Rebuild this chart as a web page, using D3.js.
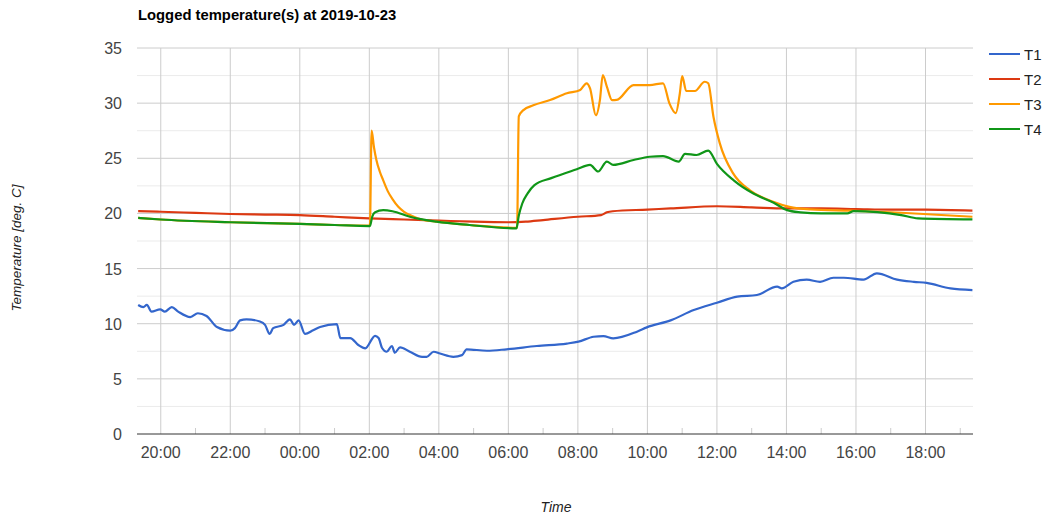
<!DOCTYPE html>
<html>
<head>
<meta charset="utf-8">
<script src="https://d3js.org/d3.v7.min.js"></script>
<style>
  body { margin: 0; background: #fff; }
  text { font-family: Arial, "Liberation Sans", sans-serif; }
</style>
</head>
<body>
<script>
// data, [time, deg C]
var seriesNames = ['T1', 'T2', 'T3', 'T4'];
var seriesColors = ['#3366cc', '#dc3912', '#ff9900', '#109618'];
var yTicks = [0, 5, 10, 15, 20, 25, 30, 35];
var xTickLabels = ['20:00', '22:00', '00:00', '02:00', '04:00', '06:00', '08:00',
                   '10:00', '12:00', '14:00', '16:00', '18:00'];

var t1 = [['19:21', 11.7], ['19:30', 11.5], ['19:36', 11.7], ['19:44', 11.1], ['19:59', 11.3],
  ['20:07', 11.1], ['20:19', 11.5], ['20:30', 11.1], ['20:51', 10.6], ['21:04', 10.95],
  ['21:19', 10.7], ['21:37', 9.7], ['22:00', 9.37], ['22:08', 9.6], ['22:17', 10.3],
  ['22:28', 10.4], ['22:51', 10.2], ['23:00', 9.9], ['23:08', 9.07], ['23:14', 9.6],
  ['23:32', 9.9], ['23:43', 10.4], ['23:50', 9.9], ['23:58', 10.3], ['00:09', 9.07],
  ['00:23', 9.4], ['00:35', 9.7], ['01:04', 9.97], ['01:10', 8.7], ['01:27', 8.7],
  ['01:41', 8.07], ['01:53', 7.77], ['02:10', 8.9], ['02:16', 8.7], ['02:22', 7.8],
  ['02:30', 7.46], ['02:39', 7.98], ['02:44', 7.37], ['02:53', 7.86], ['03:10', 7.46],
  ['03:31', 7.0], ['03:39', 7.0], ['03:51', 7.46], ['04:02', 7.3], ['04:25', 7.0],
  ['04:40', 7.15], ['04:48', 7.68], ['05:23', 7.55], ['05:57', 7.68], ['06:49', 7.98],
  ['07:41', 8.2], ['08:01', 8.37], ['08:27', 8.82], ['08:44', 8.88], ['09:01', 8.67],
  ['09:42', 9.28], ['09:59', 9.67], ['10:40', 10.3], ['11:20', 11.24], ['12:00', 11.9],
  ['12:35', 12.45], ['13:09', 12.6], ['13:44', 13.36], ['13:52', 13.2], ['14:12', 13.8],
  ['14:35', 14.0], ['14:58', 13.8], ['15:21', 14.17], ['15:39', 14.17], ['16:13', 14.0],
  ['16:36', 14.57], ['17:11', 14.0], ['17:40', 13.8], ['18:02', 13.7], ['18:43', 13.2],
  ['19:21', 13.05]];

var t2 = [['19:21', 20.2], ['20:00', 20.15], ['21:00', 20.05], ['22:00', 19.95], ['23:00', 19.9],
  ['00:00', 19.85], ['01:00', 19.7], ['02:00', 19.55], ['03:00', 19.45], ['04:00', 19.35],
  ['05:00', 19.25], ['06:00', 19.2], ['06:30', 19.25], ['07:00', 19.4], ['08:00', 19.7],
  ['08:40', 19.85], ['08:50', 20.1], ['09:00', 20.2], ['10:00', 20.35], ['10:40', 20.45],
  ['12:00', 20.65], ['13:00', 20.55], ['14:00', 20.45], ['15:00', 20.45], ['16:00', 20.4],
  ['17:00', 20.35], ['18:00', 20.35], ['19:21', 20.25]];

var t3 = [['19:21', 19.6], ['20:00', 19.45], ['22:00', 19.2], ['00:00', 19.05], ['01:00', 18.95],
  ['02:01', 18.9], ['02:04', 27.5], ['02:08', 26.0], ['02:12', 24.9], ['02:18', 23.8],
  ['02:24', 23.0], ['02:32', 22.0], ['02:40', 21.3], ['02:50', 20.6], ['03:00', 20.15],
  ['03:15', 19.75], ['03:30', 19.45], ['03:56', 19.25], ['04:53', 18.95], ['06:15', 18.7],
  ['06:18', 28.8], ['06:26', 29.37], ['06:43', 29.8], ['07:12', 30.28], ['07:41', 30.9],
  ['08:04', 31.2], ['08:15', 31.8], ['08:21', 31.34], ['08:31', 28.9], ['08:38', 30.28],
  ['08:43', 32.55], ['08:50', 31.5], ['08:59', 30.28], ['09:07', 30.3], ['09:36', 31.64],
  ['10:04', 31.64], ['10:27', 31.8], ['10:38', 29.98], ['10:49', 29.1], ['10:56', 30.9],
  ['11:00', 32.45], ['11:07', 31.1], ['11:22', 31.1], ['11:39', 31.94], ['11:45', 31.8],
  ['11:54', 28.77], ['12:05', 26.35], ['12:28', 23.63], ['12:57', 22.1], ['13:37', 21.06],
  ['14:05', 20.6], ['14:42', 20.37], ['15:51', 20.25], ['17:18', 20.06], ['19:21', 19.7]];

var t4 = [['19:21', 19.6], ['20:00', 19.45], ['22:00', 19.2], ['00:00', 19.05], ['01:00', 18.95],
  ['02:01', 18.85], ['02:05', 19.7], ['02:10', 20.1], ['02:24', 20.3], ['02:40', 20.2],
  ['03:10', 19.7], ['03:56', 19.25], ['04:53', 18.95], ['06:14', 18.65], ['06:18', 19.8],
  ['06:24', 20.9], ['06:33', 21.8], ['06:45', 22.57], ['07:14', 23.2], ['07:58', 24.0],
  ['08:21', 24.4], ['08:35', 23.8], ['08:50', 24.7], ['09:01', 24.4], ['09:36', 24.84],
  ['10:04', 25.14], ['10:27', 25.2], ['10:54', 24.7], ['11:05', 25.4], ['11:25', 25.3],
  ['11:45', 25.7], ['12:00', 24.5], ['12:29', 23.0], ['13:03', 21.8], ['13:38', 20.97],
  ['14:01', 20.3], ['14:24', 20.1], ['15:00', 20.0], ['15:45', 20.0], ['15:56', 20.2],
  ['17:18', 19.85], ['17:47', 19.55], ['19:21', 19.46]];

var w = 1047,
    h = 519;
var plotL = 137, plotR = 973, plotT = 48, plotB = 434;

// turn 'HH:MM' lists into dates, rolling over midnight
var parse = function(rows) {
    var day = 22, prev = -1;
    return rows.map(function(r) {
        var p = r[0].split(':'), m = +p[0] * 60 + +p[1];
        if (m < prev) day += 1;
        prev = m;
        return { t: new Date(2019, 9, day, +p[0], +p[1]), v: r[1] };
    });
};
var series = [t1, t2, t3, t4].map(parse);

var x = d3.scaleTime()
    .domain([new Date(2019, 9, 22, 19, 19), new Date(2019, 9, 23, 19, 22)])
    .range([plotL, plotR]);
var y = d3.scaleLinear()
    .domain([0, 35])
    .range([plotB, plotT]);

var svg = d3.select('body')
    .append('svg')
    .attr('width', w)
    .attr('height', h);

// minor horizontal grid
svg.append('g')
    .selectAll('line')
    .data(d3.range(2.5, 35, 5))
    .join('line')
    .attr('x1', plotL).attr('x2', plotR)
    .attr('y1', d => y(d)).attr('y2', d => y(d))
    .attr('stroke', '#ebebeb');

// major horizontal grid
svg.append('g')
    .selectAll('line')
    .data(yTicks.slice(1))
    .join('line')
    .attr('x1', plotL).attr('x2', plotR)
    .attr('y1', d => y(d)).attr('y2', d => y(d))
    .attr('stroke', '#cccccc');

// vertical grid on even hours, short ticks on odd hours
var evenHours = d3.timeHour.every(2).range(x.domain()[0], x.domain()[1]);
var oddHours = d3.timeHour.range(x.domain()[0], x.domain()[1])
    .filter(d => d.getHours() % 2 === 1);
svg.append('g')
    .selectAll('line')
    .data(evenHours)
    .join('line')
    .attr('x1', d => x(d)).attr('x2', d => x(d))
    .attr('y1', plotT).attr('y2', plotB)
    .attr('stroke', '#cccccc');
svg.append('g')
    .selectAll('line')
    .data(oddHours)
    .join('line')
    .attr('x1', d => x(d)).attr('x2', d => x(d))
    .attr('y1', plotB - 6).attr('y2', plotB)
    .attr('stroke', '#cccccc');

// y labels
svg.append('g')
    .selectAll('text')
    .data(yTicks)
    .join('text')
    .attr('x', 122)
    .attr('y', d => y(d) + 6)
    .attr('text-anchor', 'end')
    .attr('font-size', 16)
    .attr('fill', '#444')
    .text(d => d);

// x labels
svg.append('g')
    .selectAll('text')
    .data(evenHours)
    .join('text')
    .attr('x', d => x(d))
    .attr('y', 458)
    .attr('text-anchor', 'middle')
    .attr('font-size', 16)
    .attr('fill', '#444')
    .text((d, i) => xTickLabels[i]);

// lines
var line = d3.line()
    .x(d => x(d.t))
    .y(d => y(d.v))
    .curve(d3.curveMonotoneX);
var order = [0, 1, 2, 3];
svg.append('g')
    .selectAll('path')
    .data(order)
    .join('path')
    .attr('d', i => line(series[i]))
    .attr('fill', 'none')
    .attr('stroke', i => seriesColors[i])
    .attr('stroke-width', 2.2)
    .attr('stroke-linejoin', 'round');

// baseline
svg.append('line')
    .attr('x1', plotL).attr('x2', plotR)
    .attr('y1', y(0)).attr('y2', y(0))
    .attr('stroke', '#333');

// title
svg.append('text')
    .attr('x', 138)
    .attr('y', 20)
    .attr('font-size', 14.8)
    .attr('font-weight', 'bold')
    .attr('fill', '#000')
    .text('Logged temperature(s) at 2019-10-23');

// axis titles
svg.append('text')
    .attr('transform', 'translate(21,' + 248 + ') rotate(-90)')
    .attr('text-anchor', 'middle')
    .attr('font-size', 13.5)
    .attr('font-style', 'italic')
    .attr('fill', '#222')
    .text('Temperature [deg. C]');
svg.append('text')
    .attr('x', 556)
    .attr('y', 512)
    .attr('text-anchor', 'middle')
    .attr('font-size', 14)
    .attr('font-style', 'italic')
    .attr('fill', '#222')
    .text('Time');

// legend
var legend = svg.append('g')
    .selectAll('g')
    .data(seriesNames)
    .join('g')
    .attr('transform', (d, i) => 'translate(989,' + (54 + i * 25) + ')');
legend.append('line')
    .attr('x1', 0).attr('x2', 31)
    .attr('stroke', (d, i) => seriesColors[i])
    .attr('stroke-width', 2);
legend.append('text')
    .attr('x', 35)
    .attr('y', 5.5)
    .attr('font-size', 15)
    .attr('fill', '#222')
    .text(d => d);
</script>
</body>
</html>
